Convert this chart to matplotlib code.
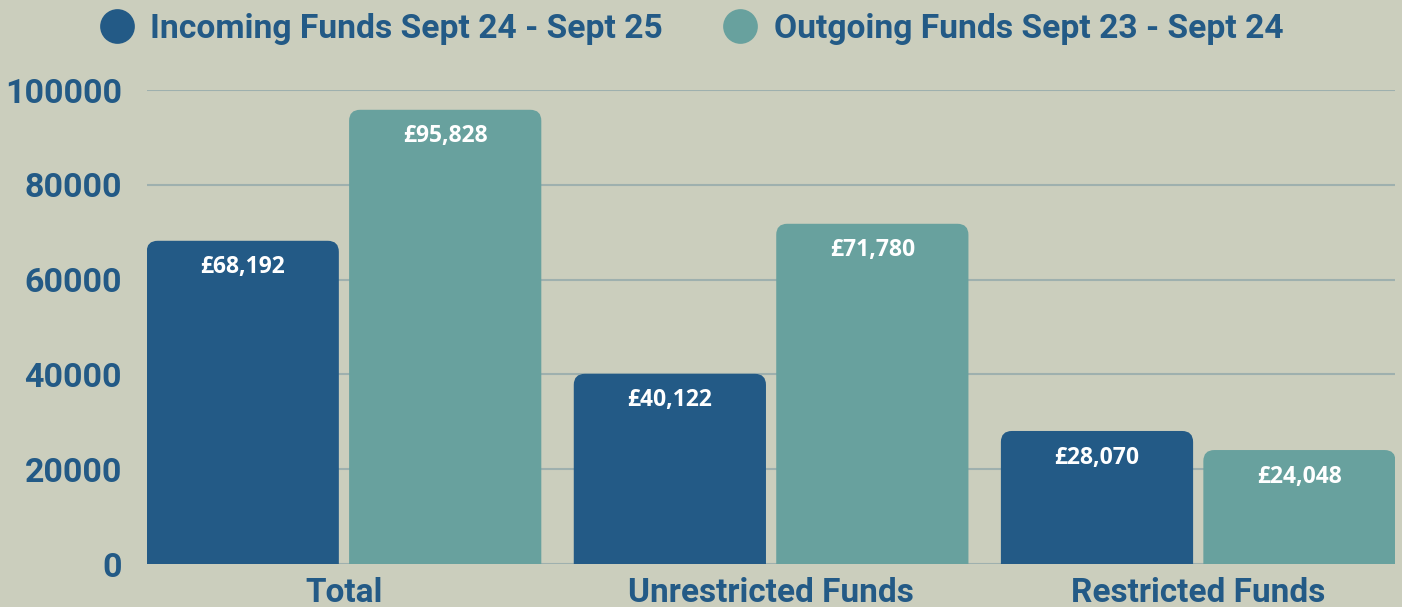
import matplotlib.pyplot as plt
import numpy as np
from matplotlib.lines import Line2D
from matplotlib.patches import FancyBboxPatch

categories = ["Total", "Unrestricted Funds", "Restricted Funds"]
incoming = [68192, 40122, 28070]
outgoing = [95828, 71780, 24048]
series_names = ["Incoming Funds Sept 24 - Sept 25", "Outgoing Funds Sept 23 - Sept 24"]
y_ticks = [0, 20000, 40000, 60000, 80000, 100000]

BG = "#cbcebd"
DARK = "#235a86"
TEAL = "#68a19e"
GRID = "#9eb0ae"

plt.rcParams["font.family"] = ["Roboto", "DejaVu Sans"]

fig = plt.figure(figsize=(14.02, 6.07), dpi=100, facecolor=BG)
ax = fig.add_axes([0.1049, 0.0708, 0.8902, 0.7809], facecolor=BG)

x = np.arange(len(categories))
width = 0.45
gap = 0.024
ax.set_xlim(-0.461, 2.461)
ax.set_ylim(0, 100000)


def rounded_bars(xs, values, color):
    # pixel radius converted into data units on each axis
    r_px = 11
    x_per_px = (ax.get_xlim()[1] - ax.get_xlim()[0]) / (0.8902 * 1402)
    y_per_px = (ax.get_ylim()[1] - ax.get_ylim()[0]) / (0.7809 * 607)
    r_x = r_px * x_per_px
    aspect = y_per_px / x_per_px
    for xc, v in zip(xs, values):
        box = FancyBboxPatch(
            (xc - width / 2, -8000), width, v + 8000,
            boxstyle=f"round,pad=0,rounding_size={r_x}",
            mutation_aspect=aspect,
            facecolor=color, edgecolor="none", zorder=3,
        )
        ax.add_patch(box)
        ax.text(xc, v - 5600, f"£{v:,}", ha="center", va="center",
                color="white", fontsize=16.5, fontweight="bold",
                family=["Open Sans", "DejaVu Sans"], zorder=4)


rounded_bars(x - width / 2 - gap / 2, incoming, DARK)
rounded_bars(x + width / 2 + gap / 2, outgoing, TEAL)

ax.set_yticks(y_ticks)
ax.set_yticklabels([str(t) for t in y_ticks])
ax.set_xticks(x)
ax.set_xticklabels(categories)
ax.tick_params(axis="y", length=0, pad=18, labelsize=24.5, labelcolor=DARK)
ax.tick_params(axis="x", length=0, pad=9, labelsize=24, labelcolor=DARK)
for lab in ax.get_xticklabels() + ax.get_yticklabels():
    lab.set_fontweight("bold")

ax.grid(axis="y", color=GRID, linewidth=1.5, zorder=0)
ax.set_axisbelow(True)
for side in ax.spines.values():
    side.set_visible(False)

handles = [
    Line2D([], [], marker="o", linestyle="none", markersize=25,
           markerfacecolor=DARK, markeredgecolor="none"),
    Line2D([], [], marker="o", linestyle="none", markersize=25,
           markerfacecolor=TEAL, markeredgecolor="none"),
]
leg = fig.legend(handles, series_names, loc="center", bbox_to_anchor=(0.4873, 0.953),
                 ncol=2, frameon=False, handletextpad=0.0, columnspacing=1.3,
                 prop={"size": 24.2, "weight": "bold"})
for t in leg.get_texts():
    t.set_color(DARK)

fig.savefig("out.png", dpi=100, facecolor=BG)
